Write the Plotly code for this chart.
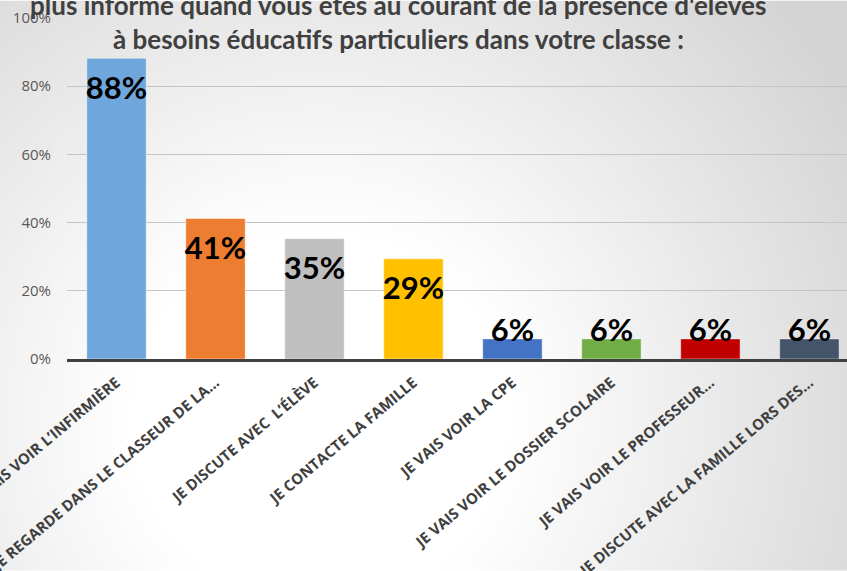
import base64
import plotly.graph_objects as go

# Réponses (part des enseignants interrogés)
categories = [
    "JE VAIS VOIR L’INFIRMIÈRE",
    "JE REGARDE DANS LE CLASSEUR DE LA...",
    "JE DISCUTE AVEC  L’ÉLÈVE",
    "JE CONTACTE LA FAMILLE",
    "JE VAIS VOIR LA CPE",
    "JE VAIS VOIR LE DOSSIER SCOLAIRE",
    "JE VAIS VOIR LE PROFESSEUR...",
    "JE DISCUTE AVEC LA FAMILLE LORS DES...",
]
values = [0.882, 0.412, 0.353, 0.294, 0.059, 0.059, 0.059, 0.059]
value_labels = ["88%", "41%", "35%", "29%", "6%", "6%", "6%", "6%"]
bar_colors = ["#6FA6DB", "#ED7D31", "#BFBFBF", "#FFC000",
              "#4472C4", "#70AD47", "#C00000", "#44546A"]

title_lines = [
    "plus informé quand vous êtes au courant de la présence d'élèves",
    "à besoins éducatifs particuliers dans votre classe :",
]

W, H = 847, 571
L, R, T, B = 67, 0, 17.5, 212
pw, ph = W - L - R, H - T - B

# fond en dégradé radial (comme dans Excel)
bg_svg = f"""<svg xmlns='http://www.w3.org/2000/svg' width='{W}' height='{H}' viewBox='0 0 {W} {H}' preserveAspectRatio='none'>
<defs><radialGradient id='g' gradientUnits='userSpaceOnUse' cx='320' cy='420' r='620'>
<stop offset='0' stop-color='#ffffff'/><stop offset='0.3' stop-color='#ffffff'/>
<stop offset='1' stop-color='#d4d4d4'/></radialGradient></defs>
<rect width='{W}' height='{H}' fill='url(#g)'/></svg>"""
bg_src = "data:image/svg+xml;base64," + base64.b64encode(bg_svg.encode()).decode()

# étiquettes: dans le haut de la barre, ou juste au-dessus si la barre est trop petite
label_y = [max(v - 33 / ph, 26 / ph) for v in values]

fig = go.Figure()
fig.add_trace(go.Bar(
    x=categories, y=values,
    marker=dict(color=bar_colors, line=dict(color="rgba(255,255,255,0.45)", width=1)),
    width=0.6,
    hoverinfo="skip",
))
fig.add_trace(go.Scatter(
    x=categories, y=label_y, text=value_labels,
    mode="text", textposition="middle center",
    textfont=dict(family="Lato", size=31, color="black", weight="bold"),
    hoverinfo="skip",
))

fig.update_layout(
    width=W, height=H,
    margin=dict(l=L, r=R, t=T, b=B, autoexpand=False),
    showlegend=False,
    paper_bgcolor="white",
    plot_bgcolor="rgba(0,0,0,0)",
    images=[dict(
        source=bg_src, xref="paper", yref="paper",
        x=-L / pw, y=1 + T / ph, sizex=W / pw, sizey=H / ph,
        xanchor="left", yanchor="top", sizing="stretch", layer="below",
    )],
    xaxis=dict(
        range=[-0.5, 7.38],
        tickangle=-40,
        tickfont=dict(family="Open Sans", size=15, color="#404040", weight="bold"),
        showline=True, linecolor="#404040", linewidth=3,
        showgrid=False, ticks="", ticklabelstandoff=6,
        automargin=False,
    ),
    yaxis=dict(
        range=[0, 1],
        tickvals=[0, 0.2, 0.4, 0.6, 0.8, 1.0],
        tickformat=".0%",
        tickfont=dict(family="Open Sans", size=15, color="#595959"),
        gridcolor="#C4C4C4", gridwidth=1,
        zeroline=False, ticks="", ticklabelstandoff=15,
        automargin=False,
    ),
)

for i, line in enumerate(title_lines):
    fig.add_annotation(
        text=line, xref="paper", yref="paper",
        x=(398 - L) / pw, y=1 + (T - [4, 39][i]) / ph,
        xanchor="center", yanchor="middle", showarrow=False,
        font=dict(family="Lato", size=26, color="#404040", weight="bold"),
    )

fig.write_html("out.html", config={"displayModeBar": False},
               post_script="document.body.style.margin='0';")
